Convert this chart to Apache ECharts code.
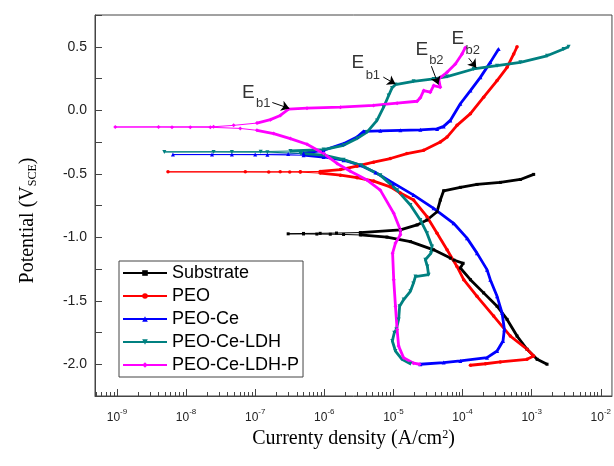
<!DOCTYPE html>
<html><head><meta charset="utf-8">
<script src="https://cdn.jsdelivr.net/npm/echarts@6/dist/echarts.min.js"></script>
<style>html,body{margin:0;padding:0;background:#fff}#c{width:614px;height:466px}</style>
</head><body><div id="c"></div>
<script>
// ---- data (current density in A/cm2, potential in V vs SCE), in scan order ----
const sampleNames = ['Substrate', 'PEO', 'PEO-Ce', 'PEO-Ce-LDH', 'PEO-Ce-LDH-P'];

const subI = [1.67e-3,1.20e-3,8.57e-4,6.15e-4,4.41e-4,3.16e-4,2.02e-4,1.30e-4,9.3e-5,1.02e-4,7.5e-5,6.67e-5,3.82e-5,1.76e-5,8.07e-6,3.32e-6,1.9e-6,1.22e-6,7.8e-7,5.0e-7,3.0e-7,
              5.0e-7,8.7e-7,1.5e-6,3.32e-6,1.26e-5,2.2e-5,3.06e-5,4.28e-5,4.77e-5,5.33e-5,9.3e-5,1.62e-4,3.52e-4,6.87e-4,1.07e-3];
const subE = [-2.000,-1.961,-1.882,-1.778,-1.647,-1.543,-1.438,-1.334,-1.242,-1.205,-1.180,-1.164,-1.099,-1.034,-0.999,-0.982,-0.978,-0.976,-0.975,-0.974,-0.973,
              -0.970,-0.969,-0.967,-0.963,-0.942,-0.903,-0.864,-0.799,-0.707,-0.634,-0.607,-0.584,-0.568,-0.545,-0.505];

const peoI = [1.30e-4,2.14e-4,3.52e-4,8.57e-4,1.07e-3,8.57e-4,4.92e-4,2.82e-4,1.62e-4,1.04e-4,8.3e-5,5.97e-5,4.28e-5,3.06e-5,1.96e-5,1.26e-5,9.0e-6,5.18e-6,2.97e-6,1.71e-6,8.7e-7,4.5e-7,3.16e-7,1.57e-7,7.2e-8,5.47e-9,
              2.3e-7,4.5e-7,8.7e-7,1.71e-6,2.97e-6,5.16e-6,9.02e-6,1.57e-5,2.74e-5,4.77e-5,5.97e-5,8.32e-5,1.30e-4,2.02e-4,3.16e-4,4.41e-4,5.5e-4,6.15e-4];
const peoE = [-2.008,-1.996,-1.982,-1.961,-1.935,-1.882,-1.778,-1.621,-1.465,-1.334,-1.230,-1.099,-0.968,-0.838,-0.707,-0.652,-0.603,-0.558,-0.531,-0.511,-0.495,-0.487,-0.486,-0.486,-0.485,-0.485,
              -0.485,-0.484,-0.482,-0.467,-0.440,-0.409,-0.380,-0.341,-0.315,-0.250,-0.211,-0.119,-0.027,0.103,0.234,0.338,0.443,0.500];

const ceI = [2.45e-5,5.33e-5,9.29e-5,2.26e-4,3.16e-4,3.85e-4,4.03e-4,3.73e-4,3.16e-4,2.52e-4,2.26e-4,1.62e-4,1.16e-4,7.43e-5,3.82e-5,1.96e-5,1.01e-5,5.5e-6,3.32e-6,1.90e-6,9.77e-7,5.01e-7,1.5e-7,4.6e-8,2.37e-8,6.46e-9,
             1.0e-7,3.0e-7,5.0e-7,9.77e-7,1.90e-6,2.97e-6,3.71e-6,6.46e-6,1.26e-5,2.45e-5,4.28e-5,5.33e-5,6.65e-5,9.29e-5,1.30e-4,1.81e-4,2.52e-4,3.33e-4];
const ceE = [-2.000,-1.987,-1.974,-1.948,-1.896,-1.817,-1.726,-1.595,-1.465,-1.334,-1.255,-1.125,-1.007,-0.890,-0.772,-0.668,-0.576,-0.490,-0.433,-0.393,-0.368,-0.354,-0.350,-0.349,-0.349,-0.349,
             -0.349,-0.345,-0.338,-0.315,-0.263,-0.211,-0.166,-0.162,-0.158,-0.154,-0.147,-0.127,-0.080,0.051,0.155,0.259,0.377,0.482];

const ldhI = [1.76e-5,1.33e-5,1.07e-5,9.64e-6,1.03e-5,1.10e-5,1.19e-5,1.23e-5,1.41e-5,1.76e-5,1.94e-5,2.08e-5,3.23e-5,3.10e-5,2.90e-5,3.50e-5,3.62e-5,3.06e-5,2.45e-5,1.76e-5,1.13e-5,6.46e-6,3.4e-6,1.90e-6,9.77e-7,4.5e-7,1.5e-7,4.6e-8,2.5e-8,4.84e-9,
              1.2e-7,3.23e-7,9.77e-7,1.90e-6,2.97e-6,4.15e-6,5.79e-6,7.21e-6,8.53e-6,9.55e-6,1.07e-5,1.96e-5,3.82e-5,5.97e-5,1.45e-4,3.16e-4,6.87e-4,1.67e-3,2.90e-3,3.43e-3];
const ldhE = [-1.996,-1.961,-1.896,-1.817,-1.752,-1.726,-1.647,-1.543,-1.491,-1.426,-1.365,-1.310,-1.295,-1.230,-1.177,-1.125,-1.073,-0.968,-0.864,-0.746,-0.629,-0.511,-0.433,-0.389,-0.354,-0.339,-0.330,-0.329,-0.328,-0.328,
              -0.326,-0.321,-0.310,-0.276,-0.223,-0.172,-0.080,0.024,0.116,0.176,0.202,0.228,0.247,0.265,0.325,0.351,0.377,0.429,0.482,0.500];

const ldhpI = [2.39e-5,1.96e-5,1.40e-5,1.19e-5,1.13e-5,1.07e-5,1.01e-5,9.73e-6,1.07e-5,1.26e-5,1.26e-5,1.01e-5,6.46e-6,4.15e-6,2.38e-6,1.53e-6,9.77e-7,5.62e-7,3.22e-7,1.85e-7,1.06e-7,6.08e-8,2.24e-8,1.15e-8,6.25e-9,4.0e-9,9.45e-10,
               2.5e-8,4.87e-8,1.06e-7,1.66e-7,2.31e-7,3.04e-7,5.62e-7,1.71e-6,5.16e-6,1.13e-5,2.2e-5,2.45e-5,2.74e-5,3.42e-5,3.82e-5,4.77e-5,4.51e-5,5.97e-5,7.87e-5,9.84e-5,1.10e-4];
const ldhpE = [-2.000,-1.992,-1.948,-1.857,-1.726,-1.543,-1.334,-1.125,-1.046,-0.981,-0.942,-0.811,-0.629,-0.550,-0.480,-0.419,-0.341,-0.268,-0.223,-0.184,-0.158,-0.143,-0.134,-0.133,-0.133,-0.132,-0.132,
               -0.130,-0.119,-0.101,-0.074,-0.041,0.009,0.016,0.024,0.038,0.056,0.071,0.098,0.155,0.142,0.194,0.181,0.247,0.299,0.364,0.443,0.495];

// axis ticks
const xTickValues = [1e-9, 1e-8, 1e-7, 1e-6, 1e-5, 1e-4, 1e-3, 1e-2];
const yLabelValues = [-2.0, -1.5, -1.0, -0.5, 0.0, 0.5];

// annotations (breakdown potentials)
const annText = ['E', 'b1', 'E', 'b1', 'E', 'b2', 'E', 'b2'];
const annI = [7.94e-8, 1.31e-7, 3.05e-6, 5.04e-6, 2.58e-5, 4.18e-5, 8.55e-5, 1.41e-4];
const annE = [0.139, 0.057, 0.371, 0.277, 0.480, 0.394, 0.559, 0.469];
const arrowFrom = [[1.77e-7, 0.061], [7.14e-6, 0.261], [3.54e-5, 0.347], [1.23e-4, 0.410]];
const arrowTo   = [[3.12e-7, 0.014], [1.07e-5, 0.206], [4.47e-5, 0.202], [1.58e-4, 0.335]];

// ---- build chart ----
const minorTicks = [];
for (let e = -10; e <= -2; e++) for (let m = 2; m <= 9; m++) minorTicks.push(m * Math.pow(10, e));

const samples = [
  {name: sampleNames[0], I: subI,  E: subE,  color: '#000000', symbol: 'rect',     size: 3,   rot: 0,   thr: 3e-6},
  {name: sampleNames[1], I: peoI,  E: peoE,  color: '#ff0000', symbol: 'circle',   size: 3.5, rot: 0,   thr: 8e-7},
  {name: sampleNames[2], I: ceI,   E: ceE,   color: '#0000ff', symbol: 'triangle', size: 4,   rot: 0,   thr: 4.5e-7},
  {name: sampleNames[3], I: ldhI,  E: ldhE,  color: '#008080', symbol: 'triangle', size: 4,   rot: 180, thr: 3e-7},
  {name: sampleNames[4], I: ldhpI, E: ldhpE, color: '#ff00ff', symbol: 'diamond',  size: 4,   rot: 0,   thr: 1e-7}
];

const series = [];
samples.forEach(s => {
  const all = s.I.map((v, i) => [v, s.E[i]]);
  let k = 0;
  s.I.forEach((v, i) => { if (v < s.I[k]) k = i; });
  const cath = all.slice(0, k + 1).filter(p => p[0] >= s.thr);
  const anod = all.slice(k).filter(p => p[0] >= s.thr);
  series.push({
    name: s.name, type: 'line', data: all, xAxisIndex: 0,
    symbol: s.symbol, symbolSize: s.size, symbolRotate: s.rot, showSymbol: true, showAllSymbol: true,
    lineStyle: {width: 1, color: s.color}, itemStyle: {color: s.color}, silent: true, animation: false
  });
  [cath, anod].forEach(d => series.push({
    name: s.name, type: 'line', data: d, xAxisIndex: 0, symbol: 'none', showSymbol: false,
    lineStyle: {width: 2.8, color: s.color}, itemStyle: {color: s.color}, silent: true, animation: false
  }));
});

// text labels of the breakdown potentials
series.push({
  name: 'annotations', type: 'scatter', xAxisIndex: 0, symbolSize: 1, silent: true, animation: false, z: 5,
  itemStyle: {color: 'rgba(0,0,0,0)'},
  data: annText.map((t, i) => ({
    value: [annI[i], annE[i]],
    label: {show: true, formatter: t, position: 'inside', color: '#000',
            fontFamily: 'Liberation Sans, Arial, sans-serif', fontSize: t === 'E' ? 19 : 13}
  }))
});
// arrows pointing at the breakdown potentials
series.push({
  name: 'arrows', type: 'lines', coordinateSystem: 'cartesian2d', xAxisIndex: 0, yAxisIndex: 0,
  silent: true, animation: false, z: 5,
  symbol: ['none', 'arrow'], symbolSize: 8,
  lineStyle: {color: '#000', width: 1, opacity: 1},
  data: arrowFrom.map((f, i) => ({coords: [f, arrowTo[i]]}))
});

const chart = echarts.init(document.getElementById('c'), null, {renderer: 'canvas'});
const xMin = 4.81e-10, xMax = 1.452e-2;
chart.setOption({
  animation: false,
  backgroundColor: '#ffffff',
  grid: {left: 95, right: 2, top: 15, bottom: 70, show: true, borderColor: '#444', borderWidth: 1},
  legend: {
    data: sampleNames, orient: 'vertical', left: 119, top: 261,
    itemWidth: 44, itemHeight: 7, itemGap: 5, padding: [3, 4, 3, 3],
    borderColor: '#444', borderWidth: 1, backgroundColor: '#fff', selectedMode: false,
    textStyle: {fontSize: 18, fontFamily: 'Liberation Sans, Arial, sans-serif', color: '#000', lineHeight: 18}
  },
  xAxis: [{
    type: 'log', logBase: 10, min: xMin, max: xMax, position: 'bottom',
    name: 'Currenty density (A/cm{sup|2})', nameLocation: 'middle', nameGap: 33,
    nameTextStyle: {fontFamily: 'Liberation Serif, Times New Roman, serif', fontSize: 20, color: '#000',
      rich: {sup: {fontFamily: 'Liberation Serif, Times New Roman, serif', fontSize: 12, verticalAlign: 'top', color: '#000'}}},
    axisLine: {show: true, onZero: false, lineStyle: {color: '#444', width: 1}},
    axisTick: {show: true, inside: true, length: 7, customValues: xTickValues, lineStyle: {color: '#444'}},
    axisLabel: {show: true, customValues: xTickValues, margin: 12,
      formatter: v => '{b|10}{s|' + Math.round(Math.log10(v)) + '}',
      rich: {
        b: {fontFamily: 'Liberation Sans, Arial, sans-serif', fontSize: 12, color: '#222', lineHeight: 16, verticalAlign: 'bottom'},
        s: {fontFamily: 'Liberation Sans, Arial, sans-serif', fontSize: 8, color: '#222', lineHeight: 10, verticalAlign: 'top'}
      }},
    splitLine: {show: false}
  }, {
    type: 'log', logBase: 10, min: xMin, max: xMax, position: 'bottom',
    axisLine: {show: false, onZero: false},
    axisTick: {show: true, inside: true, length: 4, customValues: minorTicks, lineStyle: {color: '#444'}},
    axisLabel: {show: false},
    splitLine: {show: false}
  }],
  yAxis: {
    type: 'value', min: -2.25, max: 0.75, interval: 0.25,
    name: 'Potential (V{sub|SCE})', nameLocation: 'middle', nameRotate: 90, nameGap: 56,
    nameTextStyle: {fontFamily: 'Liberation Serif, Times New Roman, serif', fontSize: 20, color: '#000', lineHeight: 22,
      padding: [0, 30, 0, 0],
      rich: {sub: {fontFamily: 'Liberation Serif, Times New Roman, serif', fontSize: 12, verticalAlign: 'bottom', color: '#000'}}},
    axisLine: {show: true, onZero: false, lineStyle: {color: '#444', width: 1}},
    axisTick: {show: true, inside: true, length: 7, lineStyle: {color: '#444'}},
    axisLabel: {margin: 8, fontFamily: 'Liberation Sans, Arial, sans-serif', fontSize: 14, color: '#222',
      formatter: v => yLabelValues.some(t => Math.abs(t - v) < 1e-6) ? v.toFixed(1) : ''},
    splitLine: {show: false}
  },
  series: series
});
</script></body></html>
